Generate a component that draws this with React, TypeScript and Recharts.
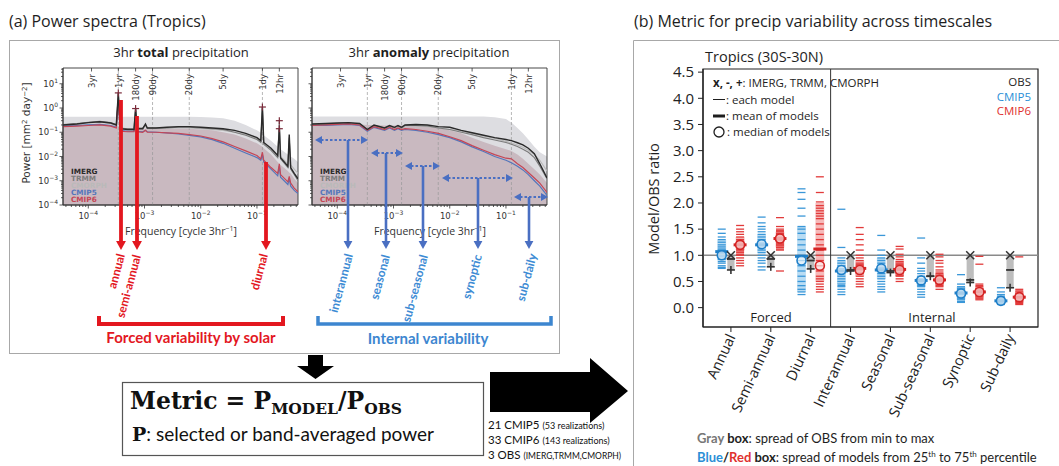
import React from "react";
import {
  ComposedChart,
  Line,
  Area,
  XAxis,
  YAxis,
  Scatter,
  ReferenceLine,
  ReferenceArea,
} from "recharts";

const SANS = "'Open Sans', 'Noto Sans', sans-serif";
const MPL = "'DejaVu Sans', sans-serif";
const CAL = "Lato, 'Open Sans', sans-serif";
const SERIF = "'DejaVu Serif', serif";

// ================= Panel (a): power spectra =================
const F_MIN = 3.55e-5;
const F_MAX = 0.537;
const P_MIN = 1e-4;
const P_MAX = 44.7;

const freqTotal = [3.55e-5, 6.3e-5, 1.0e-4, 1.6e-4, 2.5e-4, 3.15e-4, 3.42e-4, 3.7e-4, 5.0e-4, 6.5e-4, 6.94e-4, 7.4e-4, 9.3e-4, 1.04e-3, 1.12e-3, 1.6e-3, 2.5e-3, 4.0e-3, 6.3e-3, 1.0e-2, 1.6e-2, 2.5e-2, 4.0e-2, 6.3e-2, 0.1, 0.117, 0.125, 0.132, 0.178, 0.234, 0.25, 0.263, 0.355, 0.375, 0.398, 0.46, 0.537];
const imergTotal = [0.2, 0.22, 0.25, 0.27, 0.24, 0.2, 4.2, 0.14, 0.13, 0.13, 0.95, 0.14, 0.14, 0.22, 0.15, 0.15, 0.16, 0.17, 0.17, 0.16, 0.15, 0.14, 0.12, 0.09, 0.06, 0.045, 1.1, 0.038, 0.022, 0.011, 0.14, 0.009, 0.004, 0.08, 0.0035, 0.002, 0.0012];
const trmmTotal = [0.21, 0.23, 0.26, 0.28, 0.25, 0.21, 3.9, 0.15, 0.14, 0.14, 0.9, 0.15, 0.15, 0.2, 0.15, 0.15, 0.15, 0.16, 0.16, 0.15, 0.14, 0.13, 0.1, 0.075, 0.05, 0.038, 1.0, 0.032, 0.018, 0.009, 0.3, 0.008, 0.0035, 0.06, 0.003, 0.0018, 0.001];
const cmorphTotal = [0.2, 0.22, 0.24, 0.26, 0.23, 0.2, 3.5, 0.14, 0.13, 0.13, 0.85, 0.14, 0.14, 0.18, 0.14, 0.14, 0.15, 0.15, 0.15, 0.14, 0.13, 0.12, 0.1, 0.08, 0.055, 0.042, 0.9, 0.035, 0.02, 0.012, 0.2, 0.01, 0.005, 0.05, 0.0045, 0.003, 0.002];
const cmip5Total = [0.18, 0.19, 0.2, 0.21, 0.19, 0.16, 1.9, 0.12, 0.11, 0.11, 0.38, 0.11, 0.105, 0.12, 0.105, 0.1, 0.095, 0.085, 0.075, 0.065, 0.05, 0.035, 0.022, 0.014, 0.009, 0.007, 0.012, 0.006, 0.003, 0.0016, 0.004, 0.0014, 0.0007, 0.0012, 0.0006, 0.0004, 0.0003];
const cmip6Total = [0.17, 0.18, 0.19, 0.2, 0.18, 0.15, 2.2, 0.11, 0.105, 0.105, 0.45, 0.105, 0.1, 0.12, 0.1, 0.1, 0.095, 0.09, 0.08, 0.07, 0.055, 0.04, 0.026, 0.017, 0.011, 0.008, 0.015, 0.007, 0.0035, 0.002, 0.005, 0.0018, 0.0009, 0.0015, 0.0008, 0.0005, 0.00035];
const bandTotal = [0.44, 0.44, 0.44, 0.44, 0.44, 0.44, 0.44, 0.44, 0.44, 0.44, 0.44, 0.44, 0.44, 0.44, 0.44, 0.44, 0.44, 0.44, 0.44, 0.43, 0.41, 0.38, 0.3, 0.2, 0.12, 0.095, 0.085, 0.075, 0.045, 0.025, 0.022, 0.02, 0.012, 0.011, 0.01, 0.008, 0.006];
const fillTotal = [0.2, 0.21, 0.22, 0.23, 0.21, 0.19, 0.19, 0.15, 0.14, 0.14, 0.14, 0.14, 0.14, 0.14, 0.14, 0.14, 0.14, 0.14, 0.14, 0.13, 0.12, 0.1, 0.08, 0.055, 0.035, 0.028, 0.025, 0.022, 0.012, 0.006, 0.005, 0.0045, 0.0025, 0.0022, 0.002, 0.0012, 0.0008];

const freqAnom = [3.55e-5, 6.3e-5, 1.0e-4, 1.6e-4, 2.5e-4, 3.42e-4, 4.5e-4, 6.94e-4, 8.5e-4, 1.04e-3, 1.2e-3, 1.39e-3, 1.6e-3, 2.5e-3, 4.0e-3, 6.3e-3, 1.0e-2, 1.6e-2, 2.5e-2, 4.0e-2, 6.3e-2, 0.1, 0.125, 0.16, 0.2, 0.25, 0.32, 0.4, 0.537];
const imergAnom = [0.22, 0.23, 0.24, 0.25, 0.23, 0.13, 0.2, 0.15, 0.19, 0.16, 0.19, 0.16, 0.2, 0.21, 0.2, 0.17, 0.16, 0.12, 0.095, 0.075, 0.06, 0.05, 0.045, 0.037, 0.03, 0.022, 0.013, 0.005, 0.0013];
const trmmAnom = [0.21, 0.22, 0.23, 0.24, 0.22, 0.13, 0.19, 0.15, 0.18, 0.15, 0.18, 0.15, 0.19, 0.19, 0.18, 0.15, 0.13, 0.1, 0.08, 0.06, 0.048, 0.038, 0.032, 0.026, 0.02, 0.015, 0.009, 0.004, 0.0012];
const cmorphAnom = [0.2, 0.21, 0.22, 0.23, 0.21, 0.12, 0.18, 0.14, 0.17, 0.14, 0.17, 0.14, 0.18, 0.18, 0.17, 0.15, 0.13, 0.11, 0.09, 0.07, 0.055, 0.042, 0.036, 0.03, 0.024, 0.018, 0.012, 0.007, 0.0025];
const cmip5Anom = [0.19, 0.19, 0.2, 0.21, 0.19, 0.11, 0.16, 0.12, 0.15, 0.12, 0.14, 0.12, 0.13, 0.12, 0.1, 0.08, 0.06, 0.04, 0.025, 0.016, 0.01, 0.007, 0.0055, 0.004, 0.0028, 0.0018, 0.001, 0.0006, 0.00025];
const cmip6Anom = [0.19, 0.2, 0.21, 0.22, 0.2, 0.12, 0.17, 0.13, 0.16, 0.13, 0.15, 0.13, 0.14, 0.13, 0.11, 0.09, 0.065, 0.045, 0.028, 0.018, 0.012, 0.0085, 0.008, 0.005, 0.0035, 0.0022, 0.0013, 0.0008, 0.00033];
const bandAnom = [0.45, 0.45, 0.45, 0.45, 0.45, 0.45, 0.45, 0.45, 0.45, 0.45, 0.45, 0.45, 0.45, 0.45, 0.45, 0.45, 0.45, 0.45, 0.45, 0.45, 0.42, 0.35, 0.25, 0.15, 0.09, 0.05, 0.025, 0.015, 0.01];
const fillAnom = [0.2, 0.21, 0.22, 0.23, 0.21, 0.2, 0.2, 0.19, 0.19, 0.19, 0.19, 0.19, 0.19, 0.19, 0.18, 0.15, 0.12, 0.09, 0.06, 0.04, 0.028, 0.02, 0.017, 0.012, 0.008, 0.005, 0.003, 0.0018, 0.0008];

const spikeFreqs = [3.42e-4, 6.94e-4, 0.125, 0.25, 0.25];
const spikeVals = [4.2, 0.95, 1.1, 0.14, 0.3];

const periodLabels = ["3yr", "1yr", "180dy", "90dy", "20dy", "5dy", "1dy", "12hr"];
const periodFreqs = [1.142e-4, 3.425e-4, 6.944e-4, 1.389e-3, 6.25e-3, 0.025, 0.125, 0.25];
const periodGuide = [false, true, false, true, true, false, true, false];

const specNames = ["IMERG", "TRMM", "CMORPH", "CMIP5", "CMIP6"];
const specColors = ["#2a2a2a", "#7c7c7c", "#b9b9b9", "#5576bb", "#c44656"];

const totalRows = freqTotal.map((f, i) => ({
  f,
  imerg: imergTotal[i],
  trmm: trmmTotal[i],
  cmorph: cmorphTotal[i],
  cmip5: cmip5Total[i],
  cmip6: cmip6Total[i],
  band: bandTotal[i],
  fill: fillTotal[i],
}));
const anomRows = freqAnom.map((f, i) => ({
  f,
  imerg: imergAnom[i],
  trmm: trmmAnom[i],
  cmorph: cmorphAnom[i],
  cmip5: cmip5Anom[i],
  cmip6: cmip6Anom[i],
  band: bandAnom[i],
  fill: fillAnom[i],
}));
const spikeMarkers = spikeFreqs.map((f, i) => ({ f, v: spikeVals[i] }));

const xTicksSpec: number[] = [];
for (let e = -5; e <= 0; e++)
  for (let m = 1; m <= 9; m++) {
    const v = m * Math.pow(10, e);
    if (v >= F_MIN && v <= F_MAX) xTicksSpec.push(v);
  }
const yTicksSpec: number[] = [];
for (let e = -4; e <= 1; e++)
  for (let m = 1; m <= 9; m++) {
    const v = m * Math.pow(10, e);
    if (v >= P_MIN && v <= P_MAX) yTicksSpec.push(v);
  }

// ================= Panel (b): metric =================
const categories = ["Annual", "Semi-annual", "Diurnal", "Interannual", "Seasonal", "Sub-seasonal", "Synoptic", "Sub-daily"];

const cmip5Annual = [1.5, 1.42, 1.35, 1.3, 1.25, 1.2, 1.16, 1.12, 1.1, 1.08, 1.05, 1.03, 1.0, 0.98, 0.95, 0.92, 0.88, 0.85, 0.8, 0.77, 0.75];
const cmip5Semi = [1.73, 1.62, 1.55, 1.5, 1.45, 1.4, 1.35, 1.3, 1.25, 1.22, 1.2, 1.18, 1.15, 1.1, 1.05, 1.0, 0.95, 0.9, 0.85, 0.78, 0.72];
const cmip5Diurnal = [2.27, 2.2, 2.07, 1.9, 1.75, 1.55, 1.5, 1.42, 1.3, 1.2, 1.1, 1.0, 0.9, 0.8, 0.7, 0.6, 0.5, 0.42, 0.35, 0.3, 0.25];
const cmip5Inter = [1.88, 1.15, 0.95, 0.9, 0.85, 0.8, 0.75, 0.72, 0.7, 0.65, 0.6, 0.55, 0.5, 0.45, 0.42, 0.4, 0.35, 0.3, 0.25];
const cmip5Seas = [1.38, 1.1, 1.0, 0.95, 0.9, 0.85, 0.8, 0.77, 0.75, 0.72, 0.7, 0.65, 0.6, 0.55, 0.5, 0.45, 0.4, 0.35, 0.3];
const cmip5SubS = [1.33, 0.95, 0.85, 0.75, 0.7, 0.65, 0.6, 0.55, 0.52, 0.5, 0.47, 0.45, 0.42, 0.4, 0.35, 0.3, 0.25, 0.2];
const cmip5Syn = [0.63, 0.45, 0.4, 0.37, 0.35, 0.32, 0.3, 0.28, 0.25, 0.22, 0.2, 0.17, 0.15, 0.12, 0.1];
const cmip5SubD = [0.38, 0.3, 0.25, 0.22, 0.2, 0.17, 0.15, 0.13, 0.12, 0.1, 0.08, 0.06];

const cmip6Annual = [1.57, 1.5, 1.45, 1.4, 1.35, 1.3, 1.27, 1.25, 1.22, 1.2, 1.18, 1.15, 1.12, 1.1, 1.08, 1.05, 1.02, 1.0, 0.95, 0.9, 0.85, 0.8];
const cmip6Semi = [1.72, 1.55, 1.5, 1.47, 1.45, 1.42, 1.4, 1.37, 1.35, 1.32, 1.3, 1.28, 1.25, 1.22, 1.2, 1.18, 1.15, 1.12, 1.1, 0.7];
const cmip6Diurnal = [2.5, 2.2, 2.02, 1.95, 1.9, 1.85, 1.8, 1.75, 1.7, 1.6, 1.5, 1.4, 1.3, 1.2, 1.1, 1.0, 0.9, 0.8, 0.7, 0.6, 0.55, 0.5, 0.45, 0.4, 0.35, 0.3];
const cmip6Inter = [1.53, 1.4, 1.3, 1.2, 1.1, 1.0, 0.95, 0.9, 0.85, 0.82, 0.8, 0.77, 0.75, 0.72, 0.7, 0.67, 0.65, 0.6, 0.55, 0.5, 0.45, 0.4];
const cmip6Seas = [1.17, 1.12, 1.02, 0.97, 0.92, 0.88, 0.85, 0.82, 0.8, 0.77, 0.75, 0.72, 0.7, 0.67, 0.65, 0.62, 0.6, 0.55, 0.5];
const cmip6SubS = [1.02, 0.97, 0.9, 0.85, 0.78, 0.72, 0.68, 0.65, 0.62, 0.6, 0.57, 0.55, 0.52, 0.5, 0.47, 0.45, 0.42, 0.4, 0.35];
const cmip6Syn = [0.98, 0.83, 0.45, 0.42, 0.4, 0.37, 0.35, 0.33, 0.3, 0.28, 0.25, 0.22, 0.2, 0.17, 0.15];
const cmip6SubD = [0.97, 0.35, 0.32, 0.3, 0.27, 0.25, 0.22, 0.2, 0.18, 0.15, 0.12, 0.1, 0.08, 0.06];

const cmip5Models = [cmip5Annual, cmip5Semi, cmip5Diurnal, cmip5Inter, cmip5Seas, cmip5SubS, cmip5Syn, cmip5SubD];
const cmip6Models = [cmip6Annual, cmip6Semi, cmip6Diurnal, cmip6Inter, cmip6Seas, cmip6SubS, cmip6Syn, cmip6SubD];

const cmip5Q1 = [0.9, 1.05, 0.3, 0.45, 0.55, 0.4, 0.15, 0.08];
const cmip5Q3 = [1.3, 1.4, 1.55, 0.9, 0.95, 0.6, 0.4, 0.2];
const cmip5Mean = [1.07, 1.2, 0.98, 0.7, 0.72, 0.52, 0.28, 0.13];
const cmip5Median = [1.0, 1.21, 0.9, 0.72, 0.75, 0.52, 0.27, 0.13];
const cmip6Q1 = [1.1, 1.15, 0.5, 0.6, 0.6, 0.42, 0.17, 0.1];
const cmip6Q3 = [1.35, 1.45, 2.0, 0.9, 0.9, 0.65, 0.38, 0.3];
const cmip6Mean = [1.2, 1.32, 1.12, 0.75, 0.73, 0.53, 0.3, 0.2];
const cmip6Median = [1.2, 1.32, 0.8, 0.72, 0.72, 0.53, 0.3, 0.2];
const obsImerg = [1, 1, 1, 1, 1, 1, 1, 1];
const obsTrmm = [0.93, 0.93, 0.9, 0.72, 0.7, 0.6, 0.53, 0.72];
const obsCmorph = [0.72, 0.78, 0.74, 0.7, 0.67, 0.6, 0.48, 0.38];
const ratioTicks = [0, 0.5, 1, 1.5, 2, 2.5, 3, 3.5, 4, 4.5];

const OFF = 0.23;
const BLUE = "#3a97d8";
const RED = "#e23a3a";
const cmip5Pts = categories.flatMap((_, i) => cmip5Models[i].map((v) => ({ x: i - OFF, y: v })));
const cmip6Pts = categories.flatMap((_, i) => cmip6Models[i].map((v) => ({ x: i + OFF, y: v })));
const cmip5MeanPts = categories.map((_, i) => ({ x: i - OFF, y: cmip5Mean[i] }));
const cmip6MeanPts = categories.map((_, i) => ({ x: i + OFF, y: cmip6Mean[i] }));
const cmip5MedPts = categories.map((_, i) => ({ x: i - OFF, y: cmip5Median[i] }));
const cmip6MedPts = categories.map((_, i) => ({ x: i + OFF, y: cmip6Median[i] }));
const imergPts = categories.map((_, i) => ({ x: i, y: obsImerg[i] }));
const trmmPts = categories.map((_, i) => ({ x: i, y: obsTrmm[i] }));
const cmorphPts = categories.map((_, i) => ({ x: i, y: obsCmorph[i] }));

// ================= helpers =================
function supExp(lg: number) {
  return lg < 0 ? "\u2212" + Math.abs(lg) : String(lg);
}

function LogXTick(props: any) {
  const { x, y, payload } = props;
  const lg = Math.log10(payload.value);
  const major = Math.abs(lg - Math.round(lg)) < 1e-6;
  return (
    <g>
      <line x1={x} x2={x} y1={y} y2={y + (major ? 3.5 : 2)} stroke="#333" strokeWidth={0.8} />
      {major && (
        <text x={x} y={y + 14} textAnchor="middle" fontSize={8.5} fontFamily={MPL} fill="#333">
          <tspan>10</tspan>
          <tspan dy={-4} fontSize={6}>{supExp(Math.round(lg))}</tspan>
        </text>
      )}
    </g>
  );
}

function LogYTick(props: any) {
  const { x, y, payload, showLabel } = props;
  const lg = Math.log10(payload.value);
  const major = Math.abs(lg - Math.round(lg)) < 1e-6;
  return (
    <g>
      <line x1={x - (major ? 3.5 : 2)} x2={x} y1={y} y2={y} stroke="#333" strokeWidth={0.8} />
      {major && showLabel && (
        <text x={x - 5} y={y + 3} textAnchor="end" fontSize={8.5} fontFamily={MPL} fill="#333">
          <tspan>10</tspan>
          <tspan dy={-4} fontSize={6}>{supExp(Math.round(lg))}</tspan>
        </text>
      )}
    </g>
  );
}

function PeriodLabel(props: any) {
  const { viewBox, text } = props;
  if (!viewBox) return null;
  const x = viewBox.x;
  const y = viewBox.y;
  return (
    <g>
      <line x1={x} x2={x} y1={y} y2={y + 3.5} stroke="#333" strokeWidth={0.8} />
      <text
        transform={`translate(${x + 3.2},${y + 6}) rotate(-90)`}
        textAnchor="end"
        fontSize={8.5}
        fontFamily={MPL}
        fill="#333"
      >
        {text}
      </text>
    </g>
  );
}

const plusShape = (p: any) => (
  <g stroke="#7a2a3a" strokeWidth={1.2}>
    <line x1={p.cx - 3.5} x2={p.cx + 3.5} y1={p.cy} y2={p.cy} />
    <line x1={p.cx} x2={p.cx} y1={p.cy - 3.5} y2={p.cy + 3.5} />
  </g>
);

function Spectrum({ rows, showYLabels, markers }: any) {
  return (
    <ComposedChart width={310} height={170} data={rows} margin={{ top: 8, right: 12, bottom: 0, left: 20 }}>
      <XAxis
        dataKey="f"
        type="number"
        scale="log"
        domain={[F_MIN, F_MAX]}
        allowDataOverflow
        ticks={xTicksSpec}
        interval={0}
        tick={<LogXTick />}
        tickLine={false}
        tickSize={0}
        tickMargin={0}
        axisLine={{ stroke: "#333", strokeWidth: 0.9 }}
        height={25}
      />
      <YAxis
        type="number"
        scale="log"
        domain={[P_MIN, P_MAX]}
        allowDataOverflow
        ticks={yTicksSpec}
        interval={0}
        tick={<LogYTick showLabel={showYLabels} />}
        tickLine={false}
        tickSize={0}
        tickMargin={0}
        axisLine={{ stroke: "#333", strokeWidth: 0.9 }}
        width={43}
      />
      <Area type="linear" dataKey="band" baseValue={P_MIN} stroke="none" fill="#dddde1" fillOpacity={1} isAnimationActive={false} />
      <Area type="linear" dataKey="fill" baseValue={P_MIN} stroke="none" fill="#c9b9c0" fillOpacity={1} isAnimationActive={false} />
      {periodFreqs.map((f, i) => (
        <ReferenceLine
          key={"p" + i}
          x={f}
          stroke={periodGuide[i] ? "#9a9a9a" : "none"}
          strokeWidth={0.7}
          strokeDasharray="3 2"
          label={<PeriodLabel text={periodLabels[i]} />}
        />
      ))}
      <Line type="linear" dataKey="cmorph" stroke={specColors[2]} strokeWidth={1.1} dot={false} isAnimationActive={false} />
      <Line type="linear" dataKey="trmm" stroke={specColors[1]} strokeWidth={1.1} dot={false} isAnimationActive={false} />
      <Line type="linear" dataKey="cmip5" stroke={specColors[3]} strokeWidth={1.2} dot={false} isAnimationActive={false} />
      <Line type="linear" dataKey="cmip6" stroke={specColors[4]} strokeWidth={1.2} dot={false} isAnimationActive={false} />
      <Line type="linear" dataKey="imerg" stroke={specColors[0]} strokeWidth={1.4} dot={false} isAnimationActive={false} />
      {markers && <Scatter data={markers} dataKey="v" shape={plusShape} isAnimationActive={false} />}
      <ReferenceArea x1={F_MIN} x2={F_MAX} y1={P_MIN} y2={P_MAX} fill="none" stroke="#333" strokeWidth={0.9} />
    </ComposedChart>
  );
}

const dashShape = (color: string, w: number, sw: number) => (p: any) => (
  <line x1={p.cx - w / 2} x2={p.cx + w / 2} y1={p.cy} y2={p.cy} stroke={color} strokeWidth={sw} />
);
const circleShape = (color: string) => (p: any) => (
  <circle cx={p.cx} cy={p.cy} r={4.5} fill="rgba(255,255,255,0.6)" stroke={color} strokeWidth={1.6} />
);
const xShape = (p: any) => (
  <g stroke="#333" strokeWidth={1.5}>
    <line x1={p.cx - 4} x2={p.cx + 4} y1={p.cy - 4} y2={p.cy + 4} />
    <line x1={p.cx - 4} x2={p.cx + 4} y1={p.cy + 4} y2={p.cy - 4} />
  </g>
);
const minusShape = (p: any) => (
  <line x1={p.cx - 4} x2={p.cx + 4} y1={p.cy} y2={p.cy} stroke="#333" strokeWidth={1.8} />
);
const crossShape = (p: any) => (
  <g stroke="#333" strokeWidth={1.6}>
    <line x1={p.cx - 4} x2={p.cx + 4} y1={p.cy} y2={p.cy} />
    <line x1={p.cx} x2={p.cx} y1={p.cy - 4} y2={p.cy + 4} />
  </g>
);

function CatTick(props: any) {
  const { x, y, payload } = props;
  return (
    <text
      transform={`translate(${x + 5},${y + 3}) rotate(-65)`}
      textAnchor="end"
      fontSize={14.5}
      fontFamily={SANS}
      fill="#222"
    >
      {categories[payload.value]}
    </text>
  );
}

function MetricChart() {
  return (
    <ComposedChart width={426} height={426} margin={{ top: 29, right: 21, bottom: 0, left: 30 }}>
      <XAxis
        dataKey="x"
        type="number"
        domain={[-0.7, 7.7]}
        allowDataOverflow
        ticks={categories.map((_, i) => i)}
        interval={0}
        tick={<CatTick />}
        tickSize={5}
        tickMargin={2}
        axisLine={{ stroke: "#222", strokeWidth: 1.2 }}
        tickLine={{ stroke: "#222" }}
        height={139}
      />
      <YAxis
        type="number"
        domain={[-0.37, 4.56]}
        allowDataOverflow
        ticks={ratioTicks}
        interval={0}
        tickFormatter={(v: number) => v.toFixed(1)}
        tick={{ fontSize: 15, fill: "#222", fontFamily: SANS }}
        tickSize={5}
        tickMargin={4}
        axisLine={{ stroke: "#222", strokeWidth: 1.2 }}
        tickLine={{ stroke: "#222" }}
        width={40}
      />
      {categories.map((_, i) => (
        <ReferenceArea key={"bb" + i} x1={i - OFF - 0.11} x2={i - OFF + 0.11} y1={cmip5Q1[i]} y2={cmip5Q3[i]} fill="#b9dcf3" fillOpacity={1} stroke="none" />
      ))}
      {categories.map((_, i) => (
        <ReferenceArea key={"rb" + i} x1={i + OFF - 0.11} x2={i + OFF + 0.11} y1={cmip6Q1[i]} y2={cmip6Q3[i]} fill="#f6b9b9" fillOpacity={1} stroke="none" />
      ))}
      {categories.map((_, i) => (
        <ReferenceArea
          key={"gb" + i}
          x1={i - 0.09}
          x2={i + 0.09}
          y1={Math.min(obsImerg[i], obsTrmm[i], obsCmorph[i])}
          y2={Math.max(obsImerg[i], obsTrmm[i], obsCmorph[i])}
          fill="#bdbdbd"
          fillOpacity={1}
          stroke="none"
        />
      ))}
      <ReferenceLine y={1} stroke="#8a8a8a" strokeWidth={1.6} />
      <ReferenceLine x={2.5} stroke="#333" strokeWidth={1} />
      <Scatter data={cmip5Pts} dataKey="y" shape={dashShape(BLUE, 8, 1.3)} isAnimationActive={false} />
      <Scatter data={cmip6Pts} dataKey="y" shape={dashShape(RED, 8, 1.3)} isAnimationActive={false} />
      <Scatter data={cmip5MeanPts} dataKey="y" shape={dashShape("#1f7fc8", 13, 3)} isAnimationActive={false} />
      <Scatter data={cmip6MeanPts} dataKey="y" shape={dashShape("#d42424", 13, 3)} isAnimationActive={false} />
      <Scatter data={cmip5MedPts} dataKey="y" shape={circleShape("#1f7fc8")} isAnimationActive={false} />
      <Scatter data={cmip6MedPts} dataKey="y" shape={circleShape("#d42424")} isAnimationActive={false} />
      <Scatter data={cmorphPts} dataKey="y" shape={crossShape} isAnimationActive={false} />
      <Scatter data={trmmPts} dataKey="y" shape={minusShape} isAnimationActive={false} />
      <Scatter data={imergPts} dataKey="y" shape={xShape} isAnimationActive={false} />
      <ReferenceArea x1={-0.7} x2={7.7} y1={-0.37} y2={4.56} fill="none" stroke="#222" strokeWidth={1.2} />
    </ComposedChart>
  );
}

// ================= annotation overlay =================
function VArrow({ x, y1, y2, color, w, hw }: any) {
  return (
    <g>
      <line x1={x} x2={x} y1={y1} y2={y2 - hw + 1} stroke={color} strokeWidth={w} />
      <polygon points={`${x - hw * 0.55},${y2 - hw} ${x + hw * 0.55},${y2 - hw} ${x},${y2}`} fill={color} />
    </g>
  );
}

function DArrow({ x1, x2, y, color }: any) {
  return (
    <g>
      <line x1={x1 + 6} x2={x2 - 6} y1={y} y2={y} stroke={color} strokeWidth={2.2} strokeDasharray="2.5 2" />
      <polygon points={`${x1},${y} ${x1 + 7},${y - 4} ${x1 + 7},${y + 4}`} fill={color} />
      <polygon points={`${x2},${y} ${x2 - 7},${y - 4} ${x2 - 7},${y + 4}`} fill={color} />
    </g>
  );
}

const redArrows = [
  { x: 121, y1: 100, label: "annual", lx: 125, ly: 255 },
  { x: 137, y1: 116, label: "semi-annual", lx: 141, ly: 256 },
  { x: 266, y1: 162, label: "diurnal", lx: 268, ly: 255 },
];
const blueArrows = [
  { x: 348, x1: 315, x2: 368, y: 140, label: "interannual", lx: 353, ly: 255 },
  { x: 386, x1: 371, x2: 403, y: 153, label: "seasonal", lx: 390, ly: 256 },
  { x: 423, x1: 405, x2: 440, y: 166, label: "sub-seasonal", lx: 428, ly: 256 },
  { x: 478, x1: 442, x2: 513, y: 178, label: "synoptic", lx: 482, ly: 256 },
  { x: 529, x1: 514, x2: 548, y: 197, label: "sub-daily", lx: 537, ly: 255 },
];

function Overlay() {
  const red = "#e3171f";
  const blue = "#4a6fc2";
  const lblBlue = "#3d8bd4";
  const txt = "#1e1e1e";
  return (
    <svg width={1059} height={466} style={{ position: "absolute", left: 0, top: 0, pointerEvents: "none" }}>
      {/* frames */}
      <rect x={9.5} y={40.5} width={550} height={313} fill="none" stroke="#a8a8a8" strokeWidth={1} />
      <path d="M633.5 466 L633.5 40.5 L1059 40.5" fill="none" stroke="#a8a8a8" strokeWidth={1} />
      <text x={9} y={27} fontSize={16} fontFamily={SANS} fill={txt}>(a) Power spectra (Tropics)</text>
      <text x={634} y={27} fontSize={16} fontFamily={SANS} fill={txt}>(b) Metric for precip variability across timescales</text>

      {/* spectra titles */}
      <text x={181} y={57} textAnchor="middle" fontSize={13} fontFamily={SANS} fill={txt}>
        {"3hr "}<tspan fontWeight="bold">total</tspan>{" precipitation"}
      </text>
      <text x={429} y={57} textAnchor="middle" fontSize={13} fontFamily={SANS} fill={txt}>
        {"3hr "}<tspan fontWeight="bold">anomaly</tspan>{" precipitation"}
      </text>
      <text transform="translate(30,133) rotate(-90)" textAnchor="middle" fontSize={10.5} fontFamily={MPL} fill="#333">
        {"Power [mm"}<tspan dy={-3} fontSize={7}>2</tspan><tspan dy={3}>{" day"}</tspan><tspan dy={-3} fontSize={7}>{"\u22122"}</tspan><tspan dy={3}>]</tspan>
      </text>
      {[181, 430].map((cx) => (
        <text key={"fl" + cx} x={cx} y={235} textAnchor="middle" fontSize={10.5} fontFamily={SANS} fill="#333">
          {"Frequency [cycle 3hr"}<tspan dy={-4} fontSize={7}>{"\u22121"}</tspan><tspan dy={4}>]</tspan>
        </text>
      ))}
      {specNames.map((n, k) => (
        <g key={"lg" + k}>
          <text x={71} y={174 + 7 * k} fontSize={7.3} fontWeight="bold" fontFamily={MPL} fill={specColors[k]}>{n}</text>
          <text x={320} y={174 + 7 * k} fontSize={7.3} fontWeight="bold" fontFamily={MPL} fill={specColors[k]}>{n}</text>
        </g>
      ))}

      {/* red arrows */}
      {redArrows.map((a) => (
        <g key={a.label}>
          <VArrow x={a.x} y1={a.y1} y2={250} color={red} w={3.8} hw={9} />
          <text transform={`translate(${a.lx},${a.ly}) rotate(-75)`} textAnchor="end" fontSize={12} fontWeight="bold" fontFamily={CAL} fill={red}>{a.label}</text>
        </g>
      ))}
      {/* blue arrows */}
      {blueArrows.map((a) => (
        <g key={a.label}>
          <DArrow x1={a.x1} x2={a.x2} y={a.y} color={blue} />
          <VArrow x={a.x} y1={a.y} y2={249} color={blue} w={2.6} hw={8} />
          <text transform={`translate(${a.lx},${a.ly}) rotate(-75)`} textAnchor="end" fontSize={12} fontWeight="bold" fontFamily={CAL} fill={lblBlue}>{a.label}</text>
        </g>
      ))}
      <path d="M99 316 V324 H283 V316" stroke={red} strokeWidth={4} fill="none" />
      <path d="M318 316 V324 H551 V316" stroke="#3d86d0" strokeWidth={3.5} fill="none" />
      <text x={191} y={343} textAnchor="middle" fontSize={15} fontWeight="bold" fontFamily={CAL} fill={red}>Forced variability by solar</text>
      <text x={428} y={344} textAnchor="middle" fontSize={15} fontWeight="bold" fontFamily={CAL} fill="#3d86d0">Internal variability</text>

      {/* metric box and arrows */}
      <polygon points="308,355 323,355 323,366 334,366 315.5,379 297,366 308,366" fill="#000" />
      <rect x={122.5} y={382.5} width={361} height={73} fill="#fff" stroke="#555" strokeWidth={1.2} />
      <text x={130} y={409} fontFamily={SERIF} fontWeight="bold" fontSize={23.5} fill="#111">
        {"Metric = P"}<tspan fontSize={15.5} dy={5}>MODEL</tspan><tspan fontSize={23.5} dy={-5}>/P</tspan><tspan fontSize={15.5} dy={5}>OBS</tspan>
      </text>
      <text x={132} y={441} fill="#111">
        <tspan fontFamily={SERIF} fontWeight="bold" fontSize={19}>P</tspan>
        <tspan fontFamily={CAL} fontSize={19}>: selected or band-averaged power</tspan>
      </text>
      <polygon points="490,372 590,372 590,358 628,391 590,423 590,412 490,412" fill="#000" />
      <text x={488} y={429} fontSize={11.5} fontFamily={CAL} fill="#111">{"21 CMIP5 "}<tspan fontSize={9}>(53 realizations)</tspan></text>
      <text x={488} y={444} fontSize={11.5} fontFamily={CAL} fill="#111">{"33 CMIP6 "}<tspan fontSize={9}>(143 realizations)</tspan></text>
      <text x={488} y={459} fontSize={11.5} fontFamily={CAL} fill="#111">{"3 OBS "}<tspan fontSize={8.5}>(IMERG,TRMM,CMORPH)</tspan></text>

      {/* panel b texts */}
      <text x={705} y={62} fontSize={14.5} fontFamily={SANS} fill={txt}>Tropics (30S-30N)</text>
      <text transform="translate(659,199) rotate(-90)" textAnchor="middle" fontSize={14.5} fontFamily={SANS} fill={txt}>Model/OBS ratio</text>
      <text x={713} y={87} fontSize={11.5} fontFamily={SANS} fill={txt}>
        <tspan fontWeight="bold">x, -, +</tspan>{": IMERG, TRMM, CMORPH"}
      </text>
      <line x1={713} x2={725} y1={99.5} y2={99.5} stroke={txt} strokeWidth={1} />
      <text x={726} y={104} fontSize={11.5} fontFamily={SANS} fill={txt}>: each model</text>
      <line x1={713} x2={725} y1={116} y2={116} stroke={txt} strokeWidth={3} />
      <text x={726} y={120} fontSize={11.5} fontFamily={SANS} fill={txt}>: mean of models</text>
      <circle cx={719} cy={132} r={5} fill="none" stroke={txt} strokeWidth={1.3} />
      <text x={727} y={136} fontSize={11.5} fontFamily={SANS} fill={txt}>: median of models</text>
      <text x={1031} y={86} textAnchor="end" fontSize={11.5} fontFamily={SANS} fill={txt}>OBS</text>
      <text x={1031} y={100.5} textAnchor="end" fontSize={11.5} fontFamily={SANS} fill="#2b8fd6">CMIP5</text>
      <text x={1031} y={115} textAnchor="end" fontSize={11.5} fontFamily={SANS} fill="#e0312e">CMIP6</text>
      <text x={771} y={322} textAnchor="middle" fontSize={13} fontFamily={SANS} fill={txt}>Forced</text>
      <text x={932} y={322} textAnchor="middle" fontSize={13} fontFamily={SANS} fill={txt}>Internal</text>
      <text x={697} y={443} fontSize={13} fontFamily={CAL} fill={txt}>
        <tspan fill="#777" fontWeight="bold">{"Gray "}</tspan>
        <tspan fontWeight="bold">box</tspan>
        {": spread of OBS from min to max"}
      </text>
      <text x={697} y={462} fontSize={13} fontFamily={CAL} fill={txt}>
        <tspan fill="#2b8fd6" fontWeight="bold">Blue</tspan>
        <tspan fontWeight="bold">/</tspan>
        <tspan fill="#e0312e" fontWeight="bold">Red</tspan>
        <tspan fontWeight="bold">{" box"}</tspan>
        {": spread of models from 25"}
        <tspan dy={-5} fontSize={8}>th</tspan>
        <tspan dy={5}>{" to 75"}</tspan>
        <tspan dy={-5} fontSize={8}>th</tspan>
        <tspan dy={5}>{" percentile"}</tspan>
      </text>
    </svg>
  );
}

export default function App() {
  return (
    <div style={{ position: "absolute", left: 0, top: 0, width: 1059, height: 466, background: "#fff", overflow: "hidden" }}>
      <div style={{ position: "absolute", left: 0, top: 60 }}>
        <Spectrum rows={totalRows} showYLabels={true} markers={spikeMarkers} />
      </div>
      <div style={{ position: "absolute", left: 249, top: 60 }}>
        <Spectrum rows={anomRows} showYLabels={false} markers={null} />
      </div>
      <div style={{ position: "absolute", left: 633, top: 40 }}>
        <MetricChart />
      </div>
      <Overlay />
    </div>
  );
}
